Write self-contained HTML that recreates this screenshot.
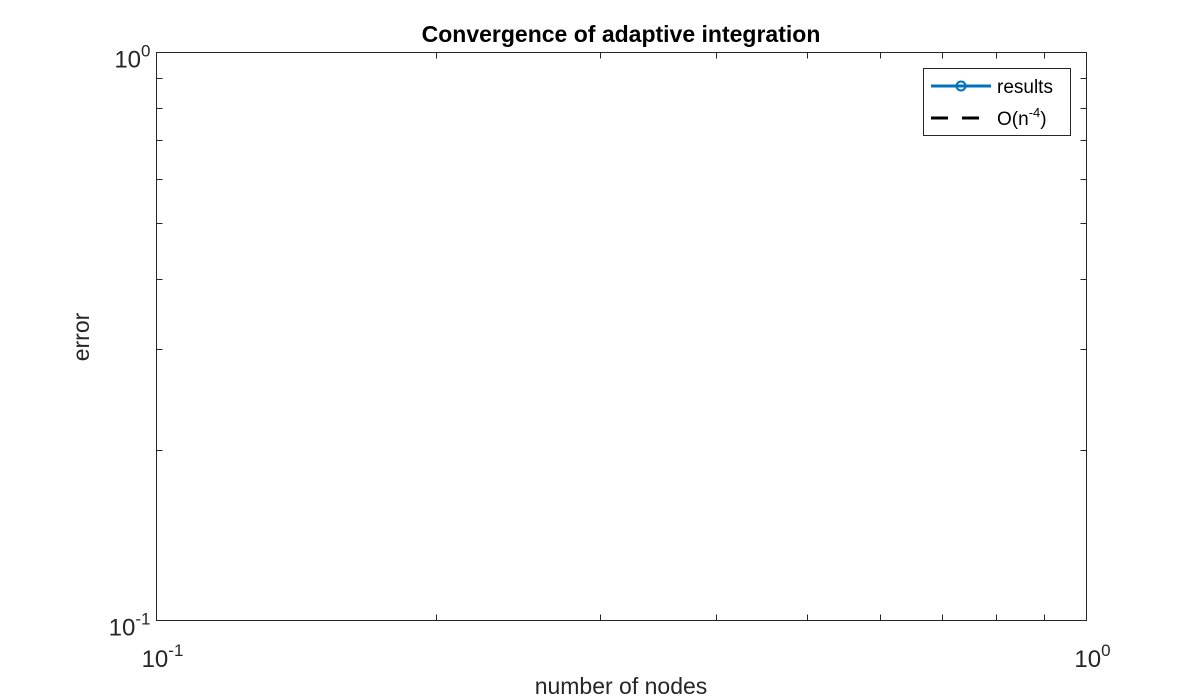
<!DOCTYPE html>
<html><head><meta charset="utf-8"><style>
html,body{margin:0;padding:0;background:#fff}
svg{display:block;font-family:"Liberation Sans",Helvetica,Arial,sans-serif}
</style></head><body>
<svg id="chart" width="1200" height="700" viewBox="0 0 1200 700">
<rect x="0" y="0" width="1200" height="700" fill="#fff"/>
<g id="axes"></g>
<text x="621" y="42" text-anchor="middle" font-size="23" font-weight="bold" fill="#000">Convergence of adaptive integration</text>
<text x="621" y="694" text-anchor="middle" font-size="23" fill="#262626">number of nodes</text>
<text transform="translate(89,337) rotate(-90)" text-anchor="middle" font-size="23" fill="#262626">error</text>
<g>
<rect x="923.5" y="68.5" width="147" height="67" fill="#fff" stroke="#262626" stroke-width="1"/>
<g>
<line x1="931" y1="86" x2="991" y2="86" stroke="#0072bd" stroke-width="3"/>
<circle cx="961" cy="86" r="4.5" fill="none" stroke="#0072bd" stroke-width="2"/>
<text x="997" y="93" font-size="19" fill="#000">results</text>
</g>
<g>
<line x1="931" y1="118" x2="982" y2="118" stroke="#000" stroke-width="3" stroke-dasharray="17,14"/>
<text x="997" y="125" font-size="19" fill="#000">O(n<tspan dy="-8" font-size="13">-4</tspan><tspan dy="8">)</tspan></text>
</g>
</g>
</svg>
<script>
const nodes = [];
const errors = [];
const refErrors = [];
const xDecades = [-1, 0];
const yDecades = [-1, 0];

const L = 156.5, R = 1086.5, T = 52.5, B = 620.5;
const ns = 'http://www.w3.org/2000/svg';
const g = document.getElementById('axes');
function xs(v){ return L + (Math.log10(v) - xDecades[0]) / (xDecades[1]-xDecades[0]) * (R-L); }
function ys(v){ return B - (Math.log10(v) - yDecades[0]) / (yDecades[1]-yDecades[0]) * (B-T); }
function mk(tag, attrs){ const e = document.createElementNS(ns, tag); for (const k in attrs) e.setAttribute(k, attrs[k]); g.appendChild(e); return e; }

const box = mk('rect', {x:L, y:T, width:R-L, height:B-T, fill:'none', stroke:'#262626', 'stroke-width':1});



for (let d = xDecades[0]; d < xDecades[1]; d++) {
  for (let k = 2; k <= 9; k++) {
    const x = Math.round(xs(k * Math.pow(10, d))) + 0.5;
    const t1 = mk('line', {x1:x, y1:B, x2:x, y2:B-6, stroke:'#262626', 'stroke-width':1});
    
    
    const t2 = mk('line', {x1:x, y1:T, x2:x, y2:T+6, stroke:'#262626', 'stroke-width':1});
    
    
  }
}
for (let d = yDecades[0]; d < yDecades[1]; d++) {
  for (let k = 2; k <= 9; k++) {
    const y = Math.round(ys(k * Math.pow(10, d))) + 0.5;
    const t1 = mk('line', {x1:L, y1:y, x2:L+6, y2:y, stroke:'#262626', 'stroke-width':1});
    
    
    const t2 = mk('line', {x1:R, y1:y, x2:R-6, y2:y, stroke:'#262626', 'stroke-width':1});
    
    
  }
}
function powLabel(x, y, exp, anchorRight){
  const t = mk('text', {x:x, y:y, 'font-size':24, fill:'#262626', 'text-anchor': anchorRight ? 'end' : 'middle'});
  t.innerHTML = '10<tspan dy="-11" font-size="17">' + exp + '</tspan>';
  return t;
}
xDecades.forEach(d => {
  const t = powLabel(xs(Math.pow(10, d)) + 6, 667, d, false);
  
  
});
yDecades.forEach(d => {
  const t = powLabel(L - 6, ys(Math.pow(10, d)) + 15, d, true);
  
  
});

if (nodes.length) {
  const pts = nodes.map((n,i) => xs(n) + ',' + ys(errors[i])).join(' ');
  const pl = mk('polyline', {points:pts, fill:'none', stroke:'#0072bd', 'stroke-width':2});
  
  
  nodes.forEach((n,i) => {
    const c = mk('circle', {cx:xs(n), cy:ys(errors[i]), r:4.5, fill:'none', stroke:'#0072bd', 'stroke-width':2});
    
    
  });
  const rp = nodes.map((n,i) => xs(n) + ',' + ys(refErrors[i])).join(' ');
  const rl = mk('polyline', {points:rp, fill:'none', stroke:'#000', 'stroke-width':2, 'stroke-dasharray':'12,8'});
  
  
}
</script>
</body></html>
